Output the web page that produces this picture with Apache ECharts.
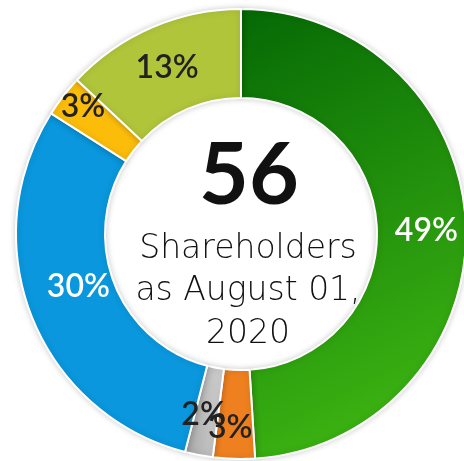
<!DOCTYPE html>
<html>
<head>
<meta charset="utf-8">
<script src="https://cdn.jsdelivr.net/npm/echarts@6/dist/echarts.min.js"></script>
<style>
  html, body { margin: 0; padding: 0; background: #fff; }
  #chart { width: 464px; height: 461px; }
</style>
</head>
<body>
<div id="chart"></div>
<script>
// slices, clockwise from 12 o'clock
const groups = ['A', 'B', 'C', 'D', 'E', 'F']
const shares = [49, 3, 2, 30, 3, 13]
const totalHolders = '56'
const caption = 'Shareholders\nas August 01,\n2020'

const sliceColors = [
  new echarts.graphic.LinearGradient(0, 0, 1, 1, [
    { offset: 0, color: '#056905' },
    { offset: 1, color: '#44be14' }
  ]),
  '#ef801f',
  new echarts.graphic.LinearGradient(0, 0, 1, 0, [
    { offset: 0, color: '#a6a6a6' },
    { offset: 1, color: '#d2d2d2' }
  ]),
  '#0a97dd',
  '#fcbd0a',
  '#b1c53b'
]
const labelColors = ['#fff', '#222', '#222', '#fff', '#222', '#222']
// small nudges so the crowded labels sit like the original
const labelOffsets = [[2, 2], [-5, 10], [-3, 0], [8, -15], [-13, -15], [-1, 2]]

const chart = echarts.init(document.getElementById('chart'))

chart.setOption({
  animation: false,
  graphic: [{
    type: 'text',
    x: 249,
    y: 133,
    z: 100,
    style: {
      text: totalHolders,
      font: 'bold 86px Lato',
      fill: '#111',
      align: 'center',
      verticalAlign: 'top'
    }
  }, {
    type: 'text',
    x: 248,
    y: 228,
    z: 100,
    style: {
      text: caption,
      font: '200 33px "DejaVu Sans"',
      lineHeight: 42.5,
      fill: '#111',
      align: 'center',
      verticalAlign: 'top'
    }
  }],
  series: [{
    type: 'pie',
    center: [241, 234],
    radius: [136, 225],
    startAngle: 90,
    clockwise: true,
    silent: true,
    avoidLabelOverlap: false,
    labelLayout: { hideOverlap: false },
    itemStyle: {
      borderColor: '#fff',
      borderWidth: 2,
      shadowBlur: 6,
      shadowColor: 'rgba(0,0,0,0.18)'
    },
    label: {
      show: true,
      position: 'inside',
      formatter: '{c}%',
      fontFamily: 'Lato',
      fontWeight: 600,
      fontSize: 32
    },
    labelLine: { show: false },
    data: groups.map((g, i) => ({
      name: g,
      value: shares[i],
      itemStyle: { color: sliceColors[i] },
      label: { color: labelColors[i], offset: labelOffsets[i] }
    }))
  }]
})
</script>
</body>
</html>
